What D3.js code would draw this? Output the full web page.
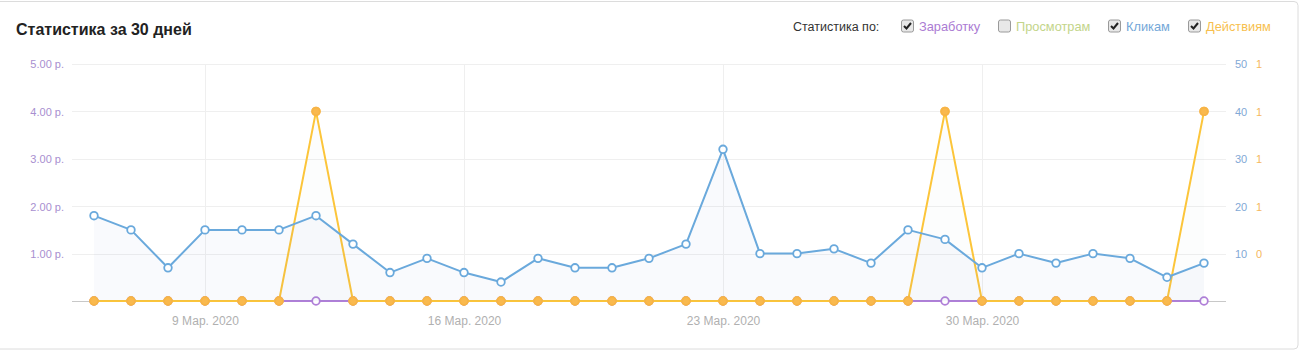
<!DOCTYPE html>
<html><head><meta charset="utf-8">
<script src="https://cdn.jsdelivr.net/npm/d3@7"></script>
<style>
html,body{margin:0;padding:0;background:#fff;}
svg{display:block;font-family:"Liberation Sans",Arial,sans-serif;}
</style></head>
<body><svg id="c" width="1301" height="353"></svg>
<script>
const dates = ["2020-03-06","2020-03-07","2020-03-08","2020-03-09","2020-03-10","2020-03-11","2020-03-12","2020-03-13","2020-03-14","2020-03-15","2020-03-16","2020-03-17","2020-03-18","2020-03-19","2020-03-20","2020-03-21","2020-03-22","2020-03-23","2020-03-24","2020-03-25","2020-03-26","2020-03-27","2020-03-28","2020-03-29","2020-03-30","2020-03-31","2020-04-01","2020-04-02","2020-04-03","2020-04-04","2020-04-05"];
const earnings = [0,0,0,0,0,0,0,0,0,0,0,0,0,0,0,0,0,0,0,0,0,0,0,0,0,0,0,0,0,0,0];
const clicks = [18,15,7,15,15,15,18,12,6,9,6,4,9,7,7,9,12,32,10,10,11,8,15,13,7,10,8,10,9,5,8];
const actions = [0,0,0,0,0,0,1,0,0,0,0,0,0,0,0,0,0,0,0,0,0,0,0,1,0,0,0,0,0,0,1];
const leftTicks = [1,2,3,4,5];
const clickTicks = [10,20,30,40,50];
const actionTicks = [0.25,0.5,0.75,1,1.25];
const monthNames = ["Янв.","Фев.","Мар.","Апр.","Май","Июн.","Июл.","Авг.","Сен.","Окт.","Ноя.","Дек."];
const title = "Статистика за 30 дней";
const legendLabel = "Статистика по:";
const legendItems = [
  {name:"Заработку", color:"#ab7bd3", checked:true},
  {name:"Просмотрам", color:"#c3d58a", checked:false},
  {name:"Кликам", color:"#74a7d8", checked:true},
  {name:"Действиям", color:"#f7bf4f", checked:true}
];

const svg = d3.select("#c");
const parse = d3.timeParse("%Y-%m-%d");
const days = dates.map(parse);

// panel
svg.append("rect").attr("x",-4).attr("y",1.5).attr("width",1302).attr("height",347.5)
  .attr("rx",4).attr("fill","#fff").attr("stroke","#dcdcdc");

svg.append("text").attr("x",16).attr("y",35).attr("font-size",16).attr("font-weight","bold")
  .attr("fill","#222").text(title);

// legend
const lg = svg.append("g");
lg.append("text").attr("x",793).attr("y",30.5).attr("font-size",12.5).attr("fill","#333").text(legendLabel);
const legX = [901,998,1108,1188];
legendItems.forEach((it,i)=>{
  const g = lg.append("g").attr("transform",`translate(${legX[i]},19.5)`);
  g.append("rect").attr("x",0.5).attr("y",0.5).attr("width",12).attr("height",12).attr("rx",2)
    .attr("fill","#e8e8e8").attr("stroke","#9a9a9a");
  if(it.checked){
    g.append("path").attr("d","M3,6.5 L5.5,9 L10,3.5").attr("fill","none").attr("stroke","#222").attr("stroke-width",2);
  }
  g.append("text").attr("x",18).attr("y",11).attr("font-size",12.8).attr("fill",it.color).text(it.name);
});

const x0 = 72, x1 = 1226;
const x = d3.scaleTime().domain(d3.extent(days)).range([94,1204]);
const yL = d3.scaleLinear().domain([0,5]).range([301,64]);
const yC = d3.scaleLinear().domain([0,50]).range([301,64]);
const yA = d3.scaleLinear().domain([0,1.25]).range([301,64]);

// grid
const grid = svg.append("g");
grid.selectAll("line.h").data(leftTicks).join("line")
  .attr("x1",x0).attr("x2",x1).attr("y1",d=>Math.round(yL(d))+0.5).attr("y2",d=>Math.round(yL(d))+0.5)
  .attr("stroke","#efefef");
const weekTicks = d3.timeMonday.range(days[0], days[days.length-1]);
grid.selectAll("line.v").data(weekTicks).join("line")
  .attr("x1",d=>Math.round(x(d))+0.5).attr("x2",d=>Math.round(x(d))+0.5).attr("y1",64).attr("y2",301)
  .attr("stroke","#efefef");

// left axis
const axL = svg.append("g").attr("transform",`translate(64,0)`)
  .call(d3.axisLeft(yL).tickValues(leftTicks).tickSize(0).tickPadding(0).tickFormat(d=>d3.format(".2f")(d)+" р."));
axL.select(".domain").remove();
axL.selectAll("text").attr("font-size",11).attr("fill","#a88fd0").attr("font-family","Liberation Sans, Arial, sans-serif").attr("dy","0.35em");

// right axes
const axC = svg.append("g").attr("transform",`translate(1235,0)`)
  .call(d3.axisRight(yC).tickValues(clickTicks).tickSize(0).tickPadding(0));
axC.select(".domain").remove();
axC.selectAll("text").attr("font-size",11).attr("fill","#82a9d6").attr("font-family","Liberation Sans, Arial, sans-serif").attr("dy","0.35em");
const axA = svg.append("g").attr("transform",`translate(1256,0)`)
  .call(d3.axisRight(yA).tickValues(actionTicks).tickSize(0).tickPadding(0).tickFormat(d=>Math.round(d)));
axA.select(".domain").remove();
axA.selectAll("text").attr("font-size",11).attr("fill","#f5b860").attr("font-family","Liberation Sans, Arial, sans-serif").attr("dy","0.35em");

// x axis
const axX = svg.append("g").attr("transform",`translate(0,301)`)
  .call(d3.axisBottom(x).tickValues(weekTicks).tickSize(0).tickPadding(15)
    .tickFormat(d=>d.getDate()+" "+monthNames[d.getMonth()]+" "+d.getFullYear()));
axX.select(".domain").remove();
axX.selectAll("text").attr("font-size",12).attr("fill","#b0b0b0").attr("font-family","Liberation Sans, Arial, sans-serif");
svg.append("line").attr("x1",x0).attr("x2",x1).attr("y1",301.5).attr("y2",301.5).attr("stroke","#c8c8c8");

// series
function drawSeries(vals, ys, lineColor, markerFill, markerStroke, areaColor, areaOp){
  const g = svg.append("g");
  const pts = vals.map((v,i)=>[x(days[i]), ys(v)]);
  g.append("path").datum(pts).attr("d", d3.area().x(d=>d[0]).y0(301).y1(d=>d[1]))
    .attr("fill",areaColor).attr("fill-opacity",areaOp);
  g.append("path").datum(pts).attr("d", d3.line()).attr("fill","none")
    .attr("stroke",lineColor).attr("stroke-width",2).attr("stroke-linejoin","round");
  g.selectAll("circle").data(pts).join("circle").attr("cx",d=>d[0]).attr("cy",d=>d[1]).attr("r",3.8)
    .attr("fill",markerFill).attr("stroke",markerStroke).attr("stroke-width",1.8);
}
drawSeries(earnings, yL, "#b07fd8", "#fff", "#b07fd8", "#b07fd8", 0.04);
drawSeries(actions, yA, "#fcc53a", "#f9b94e", "#f7b446", "#9098b0", 0.025);
drawSeries(clicks, yC, "#6aa9dc", "#fff", "#6aa9dc", "#6a8ccc", 0.04);
// keep action markers on top at baseline
svg.append("g").selectAll("circle").data(actions.map((v,i)=>[x(days[i]), yA(v)])).join("circle")
  .attr("cx",d=>d[0]).attr("cy",d=>d[1]).attr("r",3.8)
  .attr("fill","#f9b94e").attr("stroke","#f7b446").attr("stroke-width",1.8);
</script></body></html>
